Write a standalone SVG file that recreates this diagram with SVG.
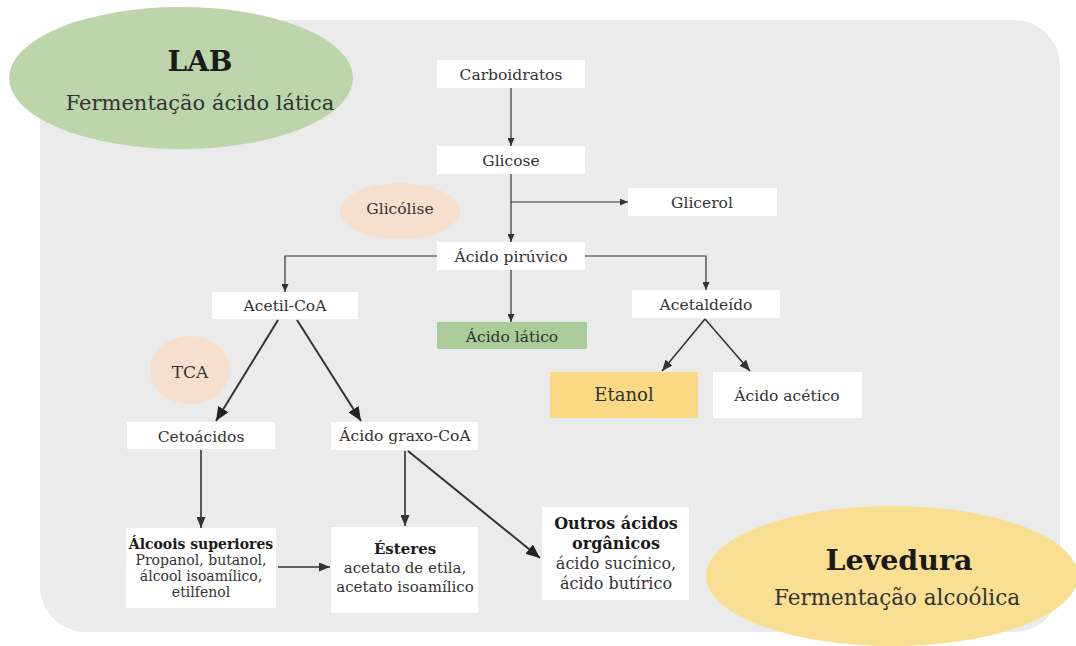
<svg xmlns="http://www.w3.org/2000/svg" width="1076" height="646" viewBox="0 0 1076 646">
  <style>
    text { font-family: "DejaVu Serif", "Liberation Serif", serif; fill: #333; text-anchor: middle; }
    .t { font-size: 15.5px; }
    .box { fill: #ffffff; }
    .c { fill: none; stroke: #333; }
    .thin { stroke-width: 1.2; }
    .mid { stroke-width: 1.6; }
    .thick { stroke-width: 2; }
    .b { font-weight: bold; fill: #1a1a1a; }
  </style>
  <defs>
    <marker id="sm" markerUnits="userSpaceOnUse" markerWidth="8" markerHeight="7" refX="8" refY="3.5" orient="auto">
      <path d="M0,0 L8,3.5 L0,7 z" fill="#333"/>
    </marker>
    <marker id="md" markerUnits="userSpaceOnUse" markerWidth="11" markerHeight="9" refX="11" refY="4.5" orient="auto">
      <path d="M0,0 L11,4.5 L0,9 z" fill="#333"/>
    </marker>
    <marker id="lg" markerUnits="userSpaceOnUse" markerWidth="14" markerHeight="12" refX="14" refY="6" orient="auto">
      <path d="M0,0 L14,6 L0,12 z" fill="#222"/>
    </marker>
  </defs>

  <rect x="0" y="0" width="1076" height="646" fill="#ffffff"/>
  <rect id="background" x="40" y="20" width="1020" height="612" rx="46" ry="46" fill="#ebebeb"/>

  <g id="lab">
    <ellipse cx="181" cy="78" rx="172" ry="71" fill="#bcd5ab"/>
    <text x="200" y="71" class="b" style="font-size:28px">LAB</text>
    <text x="200" y="110" style="font-size:21px">Fermentação ácido lática</text>
  </g>

  <g id="levedura">
    <ellipse cx="892" cy="576" rx="186" ry="70" fill="#f9df92"/>
    <text x="899" y="570" class="b" style="font-size:28.5px">Levedura</text>
    <text x="897" y="605" style="font-size:21.5px">Fermentação alcoólica</text>
  </g>

  <g id="glicolise">
    <ellipse cx="400" cy="211" rx="60" ry="28" fill="#f7dfce"/>
    <text x="400" y="214" class="t">Glicólise</text>
  </g>

  <g id="tca">
    <ellipse cx="190" cy="370" rx="40" ry="34" fill="#f7dfce"/>
    <text x="190" y="378" style="font-size:17px">TCA</text>
  </g>

  <g id="connectors">
    <path class="c thin" d="M511,88 L511,146" marker-end="url(#sm)"/>
    <path class="c thin" d="M511,174 L511,242" marker-end="url(#sm)"/>
    <path class="c thin" d="M511,202 L628,202" marker-end="url(#sm)"/>
    <path class="c thin" d="M437,256 H285 V292" marker-end="url(#sm)"/>
    <path class="c thin" d="M511,270 V322" marker-end="url(#sm)"/>
    <path class="c thin" d="M585,256 H706 V290" marker-end="url(#sm)"/>
    <path class="c mid" d="M705,319 L662,371" marker-end="url(#md)"/>
    <path class="c mid" d="M705,319 L750,371" marker-end="url(#md)"/>
    <path class="c thick" d="M278,320 L216,421" marker-end="url(#lg)"/>
    <path class="c thick" d="M297,320 L361,421" marker-end="url(#lg)"/>
    <path class="c mid" d="M201,450 V528" marker-end="url(#md)"/>
    <path class="c mid" d="M405,451 V526" marker-end="url(#md)"/>
    <path class="c thick" d="M408,451 L540,558" marker-end="url(#lg)"/>
    <path class="c mid" d="M278,567 H330" marker-end="url(#md)"/>
  </g>

  <g id="carboidratos">
    <rect class="box" x="437" y="60" width="148" height="28"/>
    <text x="511" y="80" class="t">Carboidratos</text>
  </g>
  <g id="glicose">
    <rect class="box" x="437" y="146" width="148" height="28"/>
    <text x="511" y="166" class="t">Glicose</text>
  </g>
  <g id="glicerol">
    <rect class="box" x="628" y="188" width="149" height="28"/>
    <text x="702" y="208" class="t">Glicerol</text>
  </g>
  <g id="acido-piruvico">
    <rect class="box" x="437" y="242" width="148" height="28"/>
    <text x="511" y="262" class="t">Ácido pirúvico</text>
  </g>
  <g id="acetil-coa">
    <rect class="box" x="212" y="292" width="146" height="27"/>
    <text x="285" y="311" class="t">Acetil-CoA</text>
  </g>
  <g id="acido-latico">
    <rect x="437" y="322" width="150" height="27" fill="#aacc99"/>
    <text x="512" y="342" class="t">Ácido lático</text>
  </g>
  <g id="acetaldeido">
    <rect class="box" x="632" y="290" width="148" height="28"/>
    <text x="706" y="310" class="t">Acetaldeído</text>
  </g>
  <g id="etanol">
    <rect x="550" y="372" width="148" height="46" fill="#f9d984"/>
    <text x="624" y="401" style="font-size:18px">Etanol</text>
  </g>
  <g id="acido-acetico">
    <rect class="box" x="713" y="372" width="149" height="46"/>
    <text x="787" y="401" class="t">Ácido acético</text>
  </g>
  <g id="cetoacidos">
    <rect class="box" x="127" y="422" width="148" height="27"/>
    <text x="201" y="442" class="t">Cetoácidos</text>
  </g>
  <g id="acido-graxo-coa">
    <rect class="box" x="331" y="422" width="147" height="28"/>
    <text x="405" y="441" class="t">Ácido graxo-CoA</text>
  </g>
  <g id="alcoois">
    <rect class="box" x="126" y="528" width="150" height="80"/>
    <text x="201" y="549" class="b" style="font-size:14px">Álcoois superiores</text>
    <text x="201" y="565" style="font-size:14px">Propanol, butanol,</text>
    <text x="201" y="581" style="font-size:14px">álcool isoamílico,</text>
    <text x="201" y="597" style="font-size:14px">etilfenol</text>
  </g>
  <g id="esteres">
    <rect class="box" x="331" y="527" width="147" height="86"/>
    <text x="405" y="554" class="b" style="font-size:15px">Ésteres</text>
    <text x="405" y="573" style="font-size:15px">acetato de etila,</text>
    <text x="405" y="592" style="font-size:15px">acetato isoamílico</text>
  </g>
  <g id="outros">
    <rect class="box" x="542" y="507" width="147" height="93"/>
    <text x="616" y="529" class="b" style="font-size:16px">Outros ácidos</text>
    <text x="616" y="549" class="b" style="font-size:16px">orgânicos</text>
    <text x="616" y="569" style="font-size:16px">ácido sucínico,</text>
    <text x="616" y="589" style="font-size:16px">ácido butírico</text>
  </g>
</svg>
